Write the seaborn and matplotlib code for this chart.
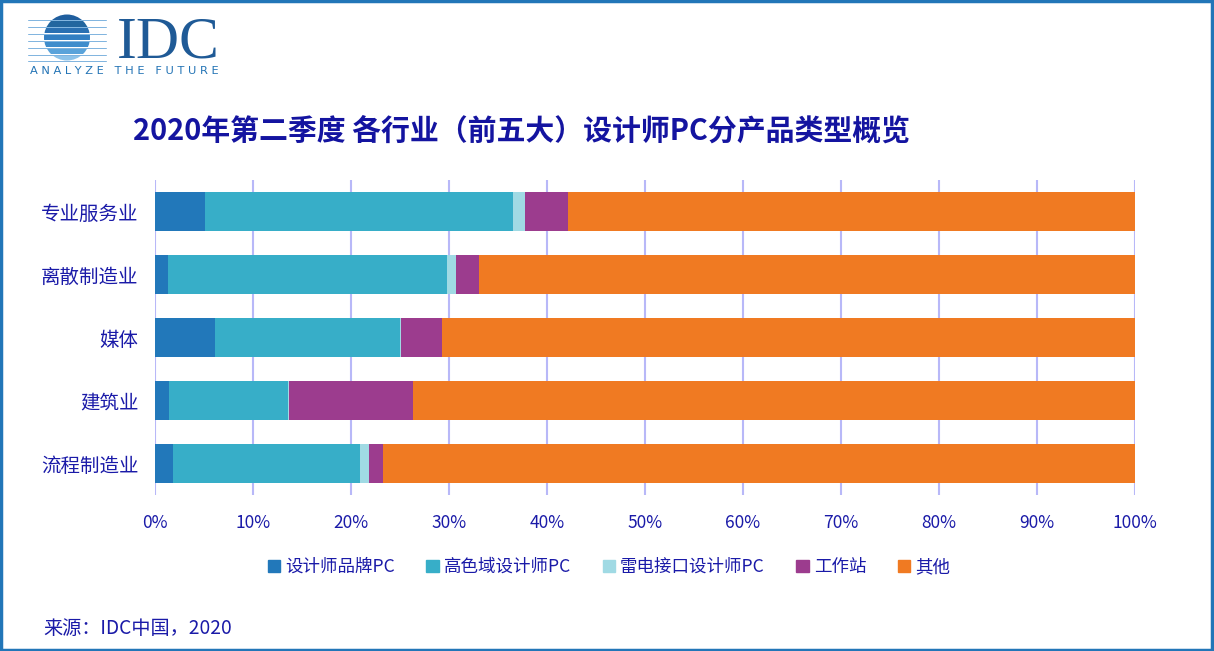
import numpy as np
import pandas as pd
import matplotlib
matplotlib.use('Agg')
import matplotlib.pyplot as plt
import seaborn as sns
from matplotlib.patches import Rectangle, Circle

industries = ['专业服务业', '离散制造业', '媒体', '建筑业', '流程制造业']
series = ['设计师品牌PC', '高色域设计师PC', '雷电接口设计师PC', '工作站', '其他']
brand_pc = [5.1, 1.3, 6.1, 1.4, 1.8]
wide_gamut_pc = [31.4, 28.5, 18.9, 12.2, 19.1]
thunderbolt_pc = [1.3, 0.9, 0.1, 0.1, 0.9]
workstation = [4.3, 2.4, 4.2, 12.6, 1.5]
other = [57.9, 66.9, 70.7, 73.7, 76.7]
colors = ['#2278BA', '#37AEC8', '#A0DAE4', '#9C3C8E', '#F07A22']

text_color = '#1A1AA8'
sns.set_theme(style='white')
plt.rcParams['font.family'] = ['Noto Sans CJK SC', 'DejaVu Sans']

df = pd.DataFrame({'行业': industries, series[0]: brand_pc, series[1]: wide_gamut_pc,
                   series[2]: thunderbolt_pc, series[3]: workstation, series[4]: other})
cum = df[series].cumsum(axis=1)

W, H = 1214, 651
fig = plt.figure(figsize=(W / 100, H / 100), dpi=100)
ax = fig.add_axes([155 / W, (H - 495) / H, 980 / W, 315 / H])

# stacked bars: draw cumulative totals from the widest to the narrowest
for i in range(len(series) - 1, -1, -1):
    sns.barplot(x=cum[series[i]], y=df['行业'], color=colors[i], width=0.62,
                saturation=1, ax=ax, orient='h', zorder=3, linewidth=0, edgecolor='none')

ax.set_xlim(0, 100)
ax.set_ylim(4.5, -0.5)
ax.set_xticks(np.arange(0, 101, 10))
ax.set_xticklabels([f'{v}%' for v in range(0, 101, 10)])
ax.grid(axis='x', color='#B8B8F8', linewidth=1.5, zorder=0)
ax.set_axisbelow(True)
for s in ax.spines.values():
    s.set_visible(False)
ax.set_xlabel('')
ax.set_ylabel('')
ax.tick_params(axis='x', colors=text_color, labelsize=12.5, length=0, pad=14)
ax.tick_params(axis='y', colors=text_color, labelsize=14, length=0, pad=12)

# title
fig.text(133 / W, 1 - 131 / H, '2020年第二季度 各行业（前五大）设计师PC分产品类型概览',
         fontsize=20.8, fontweight='bold', color='#1414A0', va='center', ha='left')

# legend
handles = [Rectangle((0, 0), 1, 1, color=c) for c in colors]
fig.legend(handles, series, loc='center', bbox_to_anchor=(609 / W, 1 - 567 / H), ncol=5,
           frameon=False, fontsize=12.6, labelcolor=text_color, handlelength=0.7,
           handleheight=0.7, handletextpad=0.3, columnspacing=1.8)

# source
fig.text(43 / W, 1 - 628 / H, '来源：IDC中国，2020', fontsize=13.8, color=text_color,
         va='center', ha='left')

# logo (pixel coordinates, y downward)
lax = fig.add_axes([0, 1 - 80 / H, 240 / W, 80 / H])
lax.set_xlim(0, 240)
lax.set_ylim(80, 0)
lax.axis('off')
cx, cy, r = 67, 37.5, 23
clip = Circle((cx, cy), r, transform=lax.transData)
band_y = np.linspace(17, 58, 7)
band_cols = ['#1F5E9E', '#22669F', '#2A70B2', '#337FC2', '#3F8DCC', '#5AA3DA', '#8DC3EA']
for yy, c in zip(band_y, band_cols):
    band = Rectangle((cx - r, yy - 2.7), 2 * r, 5.4, color=c, linewidth=0)
    lax.add_patch(band)
    band.set_clip_path(clip)
    lax.plot([28, 106], [yy + 3.4, yy + 3.4], color='#7FB3DE', linewidth=0.7)
fig.text(117 / W, 1 - 58 / H, 'IDC', fontsize=43, family='Liberation Serif', color='#1F5A96',
         va='baseline', ha='left')
fig.text(30 / W, 1 - 71 / H, 'A N A L Y Z E   T H E   F U T U R E', fontsize=8.2,
         family='DejaVu Sans', color='#2273B5', va='center', ha='left')

# border
fig.patches.append(Rectangle((0.001, 0.002), 0.997, 0.996, transform=fig.transFigure,
                             fill=False, edgecolor='#2276B8', linewidth=2.5))

fig.savefig('out.png', dpi=100)
